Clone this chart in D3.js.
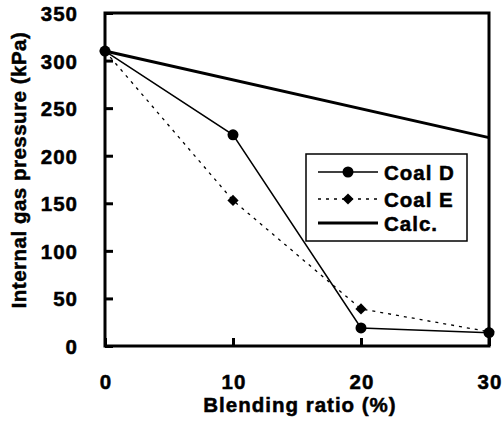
<!DOCTYPE html>
<html>
<head>
<meta charset="utf-8">
<script src="https://cdn.jsdelivr.net/npm/d3@7"></script>
<style>
body{margin:0;background:#fff}
text{font-family:"Liberation Sans",Arial,sans-serif;font-weight:bold;fill:#000;stroke:#000;stroke-width:0.5px;font-size:20.5px;letter-spacing:1px}
</style>
</head>
<body>
<div id="chart"></div>
<script>
// blending ratio (%)
var ratios = [0, 10, 20, 30];
var coalD = [310, 222, 19, 14];
var coalE = [310, 153, 39, 15];
var calcX = [0, 30];
var calcY = [310, 219];
var xTicks = [0, 10, 20, 30];
var yTicks = [0, 50, 100, 150, 200, 250, 300, 350];

var width = 504, height = 423;
var margin = {top: 13, right: 15, bottom: 77, left: 105};

var svg = d3.select("#chart").append("svg")
  .attr("width", width)
  .attr("height", height);

var x = d3.scaleLinear().domain([0, 30]).range([margin.left, width - margin.right]);
var y = d3.scaleLinear().domain([0, 350]).range([height - margin.bottom, margin.top]);

// frame
svg.append("rect")
  .attr("x", x(0)).attr("y", y(350))
  .attr("width", x(30) - x(0)).attr("height", y(0) - y(350))
  .attr("fill", "none").attr("stroke", "#000").attr("stroke-width", 3);

// y axis, ticks pointing in
var yAxis = svg.append("g")
  .attr("transform", "translate(" + x(0) + ",0)")
  .call(d3.axisRight(y).tickValues(yTicks).tickSize(8).tickFormat(""));
yAxis.select(".domain").remove();
yAxis.selectAll("line").attr("stroke-width", 3);

yAxis.selectAll(".lbl")
  .data(yTicks)
  .enter().append("text")
  .attr("class", "lbl")
  .attr("x", -27)
  .attr("y", function(d) { return y(d) + 8; })
  .attr("text-anchor", "end")
  .text(function(d) { return d; });

// x axis, ticks pointing up
var xAxis = svg.append("g")
  .attr("transform", "translate(0," + y(0) + ")")
  .call(d3.axisTop(x).tickValues(xTicks).tickSize(8).tickFormat(""));
xAxis.select(".domain").remove();
xAxis.selectAll("line").attr("stroke-width", 3);

xAxis.selectAll(".lbl")
  .data(xTicks)
  .enter().append("text")
  .attr("class", "lbl")
  .attr("x", function(d) { return x(d) + 1; })
  .attr("y", 43)
  .attr("text-anchor", "middle")
  .text(function(d) { return d; });

// axis titles
svg.append("text")
  .attr("x", 300).attr("y", 412)
  .attr("text-anchor", "middle")
  .text("Blending ratio (%)");

svg.append("text")
  .attr("transform", "translate(26,170) rotate(-90)")
  .attr("text-anchor", "middle")
  .style("letter-spacing", "0.5px")
  .text("Internal gas pressure (kPa)");

var line = d3.line()
  .x(function(d) { return x(d[0]); })
  .y(function(d) { return y(d[1]); });

// calc line
svg.append("path")
  .datum(d3.zip(calcX, calcY))
  .attr("d", line)
  .attr("fill", "none").attr("stroke", "#000").attr("stroke-width", 3);

// coal E (dotted, diamonds)
svg.append("path")
  .datum(d3.zip(ratios, coalE))
  .attr("d", line)
  .attr("fill", "none").attr("stroke", "#000").attr("stroke-width", 1.3)
  .attr("stroke-dasharray", "3,5");

svg.selectAll(".ptE")
  .data(d3.zip(ratios, coalE))
  .enter().append("path")
  .attr("class", "ptE")
  .attr("transform", function(d) { return "translate(" + x(d[0]) + "," + y(d[1]) + ")"; })
  .attr("d", d3.symbol(d3.symbolDiamond2, 80));

// coal D (solid, circles)
svg.append("path")
  .datum(d3.zip(ratios, coalD))
  .attr("d", line)
  .attr("fill", "none").attr("stroke", "#000").attr("stroke-width", 1.5);

svg.selectAll(".ptD")
  .data(d3.zip(ratios, coalD))
  .enter().append("circle")
  .attr("class", "ptD")
  .attr("cx", function(d) { return x(d[0]); })
  .attr("cy", function(d) { return y(d[1]); })
  .attr("r", 5.5);

// legend
var legend = svg.append("g");
legend.append("rect")
  .attr("x", 306).attr("y", 154).attr("width", 161).attr("height", 87)
  .attr("fill", "#fff").attr("stroke", "#000").attr("stroke-width", 1.5);

var legendNames = ["Coal D", "Coal E", "Calc."];
var legendY = [172, 199, 223];

legendNames.forEach(function(name, i) {
  var ly = legendY[i];
  var l = legend.append("line")
    .attr("x1", 318).attr("x2", 378).attr("y1", ly).attr("y2", ly)
    .attr("stroke", "#000");
  if (i == 0) {
    l.attr("stroke-width", 1.5);
    legend.append("circle").attr("cx", 348).attr("cy", ly).attr("r", 5.5);
  } else if (i == 1) {
    l.attr("stroke-width", 1.3).attr("stroke-dasharray", "3,5");
    legend.append("path")
      .attr("transform", "translate(348," + ly + ")")
      .attr("d", d3.symbol(d3.symbolDiamond2, 80));
  } else {
    l.attr("stroke-width", 3);
  }
  legend.append("text")
    .attr("x", 384).attr("y", ly + 8)
    .text(name);
});
</script>
</body>
</html>
